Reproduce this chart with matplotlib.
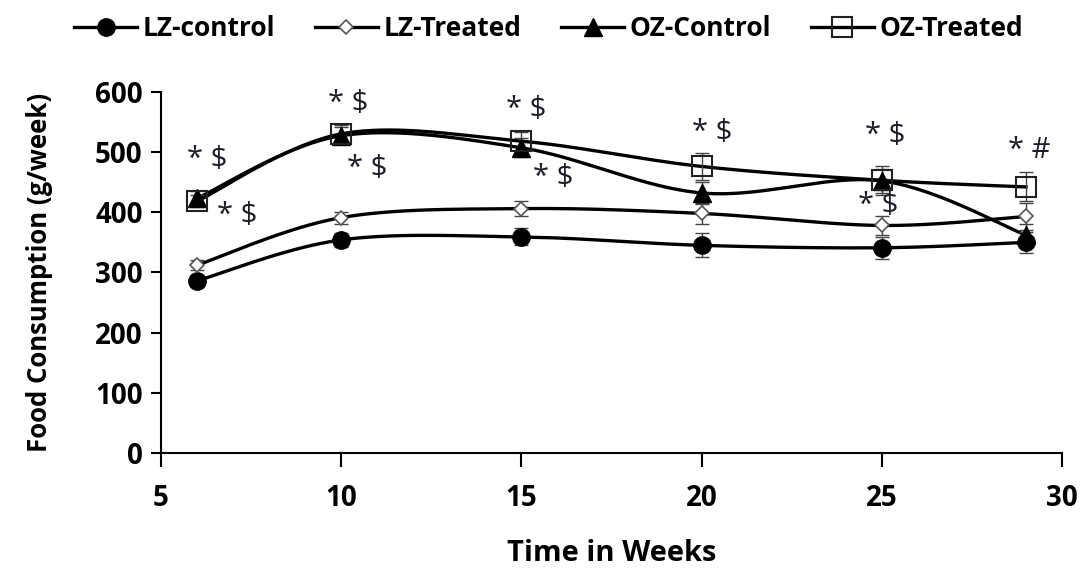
import numpy as np
import matplotlib
matplotlib.use("Agg")
import matplotlib.pyplot as plt
from matplotlib.lines import Line2D

weeks = [6, 10, 15, 20, 25, 29]
lz_control = [286, 354, 359, 345, 341, 350]
lz_control_err = [10, 12, 14, 20, 18, 18]
lz_treated = [312, 391, 406, 398, 378, 393]
lz_treated_err = [8, 10, 12, 18, 16, 22]
oz_control = [423, 527, 507, 432, 452, 362]
oz_control_err = [12, 14, 16, 18, 20, 18]
oz_treated = [418, 530, 518, 476, 453, 442]
oz_treated_err = [10, 14, 16, 22, 24, 24]

# significance marks: (week, level, text)
sig_marks = [
    (6.28, 487, "* $"), (7.11, 395, "* $"),
    (10.19, 581, "* $"), (10.74, 473, "* $"),
    (15.13, 570, "* $"), (15.88, 457, "* $"),
    (20.29, 532, "* $"),
    (25.09, 528, "* $"), (24.9, 412, "* $"),
    (29.08, 503, "* #"),
]

x_ticks = [5, 10, 15, 20, 25, 30]
y_ticks = [0, 100, 200, 300, 400, 500, 600]


def smooth(x, y, n=40):
    """Bezier smoothing through every point (Catmull-Rom style)."""
    x = np.asarray(x, float)
    y = np.asarray(y, float)
    # work in normalised units so both axes weigh alike
    sx, sy = 25.0, 600.0
    px, py = x / sx, y / sy
    out_x, out_y = [], []
    m = len(px)
    for i in range(m - 1):
        p0 = (px[max(i - 1, 0)], py[max(i - 1, 0)])
        p1 = (px[i], py[i])
        p2 = (px[i + 1], py[i + 1])
        p3 = (px[min(i + 2, m - 1)], py[min(i + 2, m - 1)])
        c1 = (p1[0] + (p2[0] - p0[0]) / 6, p1[1] + (p2[1] - p0[1]) / 6)
        c2 = (p2[0] - (p3[0] - p1[0]) / 6, p2[1] - (p3[1] - p1[1]) / 6)
        t = np.linspace(0, 1, n)
        bx = ((1 - t) ** 3) * p1[0] + 3 * ((1 - t) ** 2) * t * c1[0] + 3 * (1 - t) * t ** 2 * c2[0] + t ** 3 * p2[0]
        by = ((1 - t) ** 3) * p1[1] + 3 * ((1 - t) ** 2) * t * c1[1] + 3 * (1 - t) * t ** 2 * c2[1] + t ** 3 * p2[1]
        out_x.extend(bx * sx)
        out_y.extend(by * sy)
    return np.array(out_x), np.array(out_y)


fig = plt.figure(figsize=(10.86, 5.70), dpi=100)
ax = fig.add_axes([0.148, 0.205, 0.830, 0.634])

series = [
    ("LZ-control", lz_control, lz_control_err, dict(marker="o", mfc="black", mec="black", ms=12.5)),
    ("LZ-Treated", lz_treated, lz_treated_err, dict(marker="D", mfc="white", mec="#555555", ms=7.5, mew=1.2)),
    ("OZ-Control", oz_control, oz_control_err, dict(marker="^", mfc="black", mec="black", ms=13)),
    ("OZ-Treated", oz_treated, oz_treated_err, dict(marker="s", mfc="none", mec="#222222", ms=14, mew=1.5)),
]

handles = []
for name, vals, errs, mk in series:
    sxv, syv = smooth(weeks, vals)
    ax.plot(sxv, syv, color="black", lw=2.4, zorder=2)
    ax.errorbar(weeks, vals, yerr=errs, fmt="none", ecolor="#444444", elinewidth=1.0,
                capsize=5, capthick=1.0, zorder=3)
    ax.plot(weeks, vals, linestyle="none", zorder=4, **mk)
    handles.append(Line2D([0], [0], color="black", lw=2.4, **mk))

for xv, yv, txt in sig_marks:
    ax.text(xv, yv, txt, ha="center", va="center", fontsize=21, color="#1c1c2a",
            family="Open Sans", zorder=5)

ax.set_xlim(5, 30)
ax.set_ylim(0, 600)
ax.set_xticks(x_ticks)
ax.set_yticks(y_ticks)
for s in ["top", "right"]:
    ax.spines[s].set_visible(False)
for s in ["left", "bottom"]:
    ax.spines[s].set_linewidth(1.5)
ax.tick_params(axis="x", direction="out", length=10, width=1.5, pad=12)
ax.tick_params(axis="y", direction="out", length=7, width=1.5, pad=6)
for lab in ax.get_xticklabels() + ax.get_yticklabels():
    lab.set_fontsize(20)
    lab.set_fontweight("bold")
    lab.set_family("Open Sans")

ax.set_xlabel("Time in Weeks", fontsize=21, fontweight="bold", family="Open Sans", labelpad=19)
ax.set_ylabel("Food Consumption (g/week)", fontsize=18.5, fontweight="bold", family="Open Sans", labelpad=30)

leg = fig.legend(handles, [s[0] for s in series], loc="center", bbox_to_anchor=(0.505, 0.950),
                 ncol=4, frameon=False, handlelength=2.4, columnspacing=1.5, handletextpad=0.2,
                 prop={"family": "Open Sans", "weight": "bold", "size": 19})

fig.savefig("out.png", dpi=100)
